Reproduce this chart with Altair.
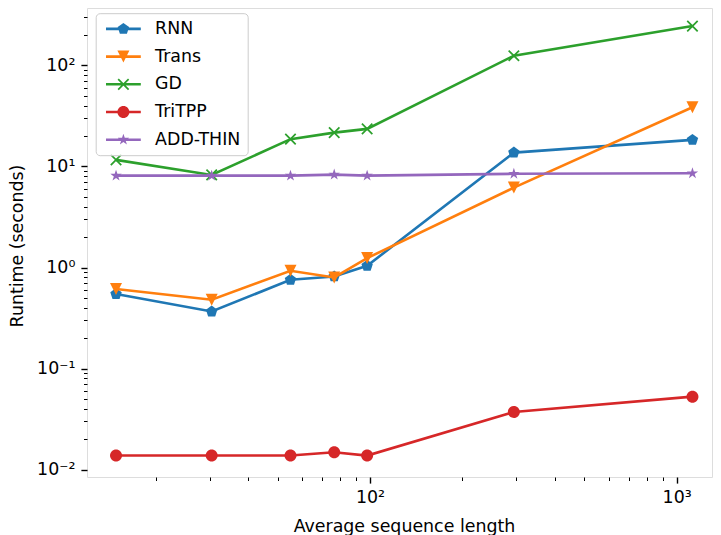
import altair as alt
import pandas as pd

# ---------------- data ----------------
lengths = [14.86, 30.47, 55.06, 76.46, 97.9, 294.6, 1126]
series_names = ["RNN", "Trans", "GD", "TriTPP", "ADD-THIN"]
rnn = [0.546, 0.367, 0.756, 0.815, 1.04, 13.7, 18.3]
trans = [0.612, 0.48, 0.928, 0.797, 1.239, 6.17, 38.5]
gd = [11.6, 8.24, 18.6, 21.6, 23.5, 124.4, 244.5]
tritpp = [0.0138, 0.0138, 0.0138, 0.0149, 0.0138, 0.0373, 0.0528]
addthin = [8.1, 8.1, 8.1, 8.3, 8.1, 8.45, 8.55]
colors = ["#1f77b4", "#ff7f0e", "#2ca02c", "#d62728", "#9467bd"]

x_ticks = [20, 30, 40, 50, 60, 70, 80, 90, 100,
           200, 300, 400, 500, 600, 700, 800, 900, 1000]
y_ticks = [0.01, 0.02, 0.03, 0.04, 0.05, 0.06, 0.07, 0.08, 0.09,
           0.1, 0.2, 0.3, 0.4, 0.5, 0.6, 0.7, 0.8, 0.9,
           1, 2, 3, 4, 5, 6, 7, 8, 9,
           10, 20, 30, 40, 50, 60, 70, 80, 90,
           100, 200, 300]

values = [rnn, trans, gd, tritpp, addthin]
rows = []
for name, vals in zip(series_names, values):
    for xv, yv in zip(lengths, vals):
        rows.append({"x": xv, "y": yv, "series": name})
df = pd.DataFrame(rows)

# ---------------- marker shapes (unit square) ----------------
pentagon = "M0,-1L0.951,-0.309L0.588,0.809L-0.588,0.809L-0.951,-0.309Z"
tri_down = "M-1,-1L1,-1L0,1Z"
xmark = ("M-0.7675,-0.9725L0.9725,0.7675L0.7675,0.9725L-0.9725,-0.7675Z"
         "M-0.7675,0.9725L-0.9725,0.7675L0.7675,-0.9725L0.9725,-0.7675Z")
circle = "M-1,0A1,1,0,1,1,1,0A1,1,0,1,1,-1,0Z"
star = ("M0,-1L0.2245,-0.309L0.951,-0.309L0.3633,0.118L0.588,0.809"
        "L0,0.382L-0.588,0.809L-0.3633,0.118L-0.951,-0.309L-0.2245,-0.309Z")
markers = [pentagon, tri_down, xmark, circle, star]
legline = "M-2.9,-0.22L2.9,-0.22L2.9,0.22L-2.9,0.22Z"
legend_shapes = [m + legline for m in markers]

W, H = 625, 469
FONT = "DejaVu Sans"
FS = 17.4

is_dec = "indexof([0.01,0.1,1,10,100,1000], datum.value) >= 0"
lab = ("datum.value == 0.01 ? '10⁻²' : datum.value == 0.1 ? '10⁻¹' : "
       "datum.value == 1 ? '10⁰' : datum.value == 10 ? '10¹' : "
       "datum.value == 100 ? '10²' : datum.value == 1000 ? '10³' : ''")

common_axis = dict(
    labelExpr=lab, labelFont=FONT, labelFontSize=FS, labelColor="black",
    labelOverlap=False, labelFlush=False, labelBound=False,
    tickColor="black",
    tickSize={"condition": {"test": is_dec, "value": 6.1}, "value": 3.5},
    tickWidth={"condition": {"test": is_dec, "value": 1.4}, "value": 1.0},
    domain=False, grid=False,
    titleFont=FONT, titleFontSize=FS, titleFontWeight="normal", titleColor="black",
)

xaxis = alt.Axis(values=x_ticks, labelPadding=5, titleX=317, titleY=54,
                 titleBaseline="alphabetic", titleAlign="center", **common_axis)
yaxis = alt.Axis(values=y_ticks, labelPadding=6, titleX=-70, titleY=H / 2 + 3,
                 titleAngle=-90, titleBaseline="middle", titleAlign="center",
                 **common_axis)

xenc = alt.X("x:Q", title="Average sequence length",
             scale=alt.Scale(type="log", domain=[11.95, 1304], nice=False, zero=False),
             axis=xaxis)
yenc = alt.Y("y:Q", title="Runtime (seconds)",
             scale=alt.Scale(type="log", domain=[0.00847, 369], nice=False, zero=False),
             axis=yaxis)

base = alt.Chart(df)
layers = []
for name, c, m in zip(series_names, colors, markers):
    sub = base.transform_filter(alt.datum.series == name)
    layers.append(sub.mark_line(color=c, strokeWidth=2.6).encode(x=xenc, y=yenc))
    layers.append(sub.mark_point(shape=m, filled=True, size=144, color=c,
                                 opacity=1, strokeWidth=0).encode(x=xenc, y=yenc))

leg = alt.Legend(title=None, orient="none", legendX=8.7, legendY=5.2,
                 labelFont=FONT, labelFontSize=FS, labelColor="black",
                 symbolSize=144, symbolStrokeWidth=0, symbolOpacity=1,
                 symbolOffset=12, labelOffset=23, rowPadding=8.7, padding=7,
                 strokeColor="#cccccc", fillColor="rgba(255,255,255,0.8)",
                 cornerRadius=4)

legend_layer = base.mark_point(filled=True, opacity=0, size=144).encode(
    x=xenc, y=yenc,
    color=alt.Color("series:N", scale=alt.Scale(domain=series_names, range=colors),
                    sort=series_names, legend=leg),
    shape=alt.Shape("series:N", scale=alt.Scale(domain=series_names, range=legend_shapes),
                    sort=series_names, legend=leg),
)
layers.append(legend_layer)

chart = alt.layer(*layers).properties(
    width=W, height=H,
    autosize=alt.AutoSizeParams(type="none"),
    padding={"left": 79, "top": 0, "right": 1, "bottom": 58},
).configure_view(stroke="black", strokeWidth=1.4).configure(font=FONT)

chart.save("out.html", embed_options={"renderer": "svg", "actions": False})
